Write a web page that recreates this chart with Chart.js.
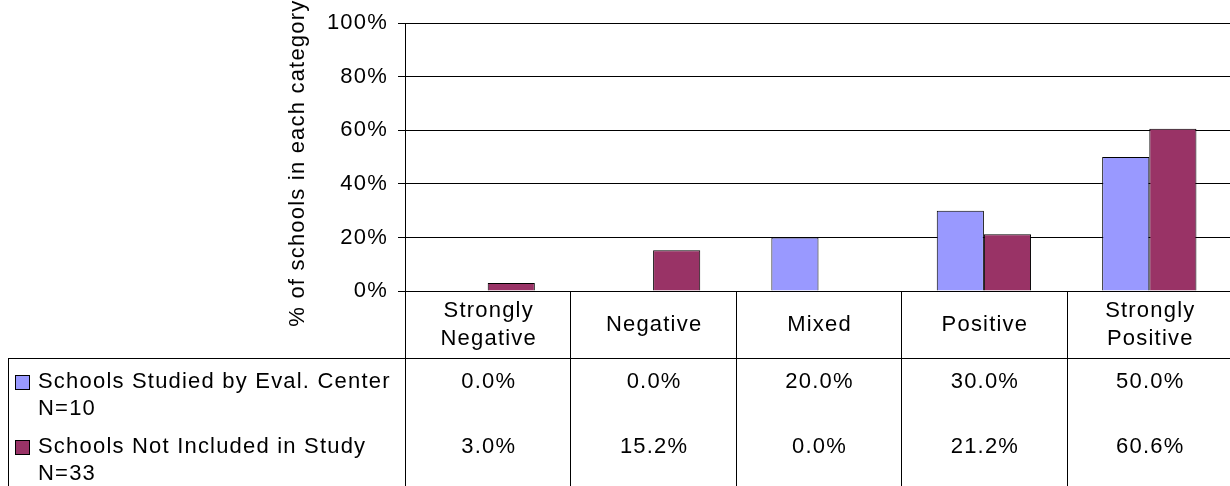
<!DOCTYPE html>
<html>
<head>
<meta charset="utf-8">
<script src="https://cdn.jsdelivr.net/npm/chart.js@4.4.1/dist/chart.umd.min.js"></script>
<style>
html, body { margin: 0; padding: 0; overflow: hidden; background: #fff; }
#wrap { width: 1232px; height: 486px; }
</style>
</head>
<body>
<div id="wrap"><canvas id="chart"></canvas></div>
<script>
const categories = [["Strongly", "Negative"], ["Negative"], ["Mixed"], ["Positive"], ["Strongly", "Positive"]];
const studied = [0.0, 0.0, 20.0, 30.0, 50.0];       // Schools Studied by Eval. Center
const notIncluded = [3.0, 15.2, 0.0, 21.2, 60.6];   // Schools Not Included in Study
const seriesNames = [["Schools Studied by Eval. Center", "N=10"], ["Schools Not Included in Study", "N=33"]];
const seriesColors = ['#9999FF', '#993366'];
const yTitle = "% of schools in each category";

const FONT = '22px "Liberation Sans", Arial, sans-serif';
const SPACING = '1.2px';

// table under the plot + rotated axis title
const dataTable = {
    id: 'dataTable',
    beforeDraw(chart) {
        chart.ctx.letterSpacing = SPACING;
    },
    afterDraw(chart) {
        const ctx = chart.ctx;
        const xs = chart.scales.x;
        const area = chart.chartArea;
        const half = (xs.getPixelForValue(1) - xs.getPixelForValue(0)) / 2;
        const headBottom = area.bottom + 67;
        const bottom = chart.height;

        ctx.save();
        ctx.letterSpacing = SPACING;
        ctx.strokeStyle = '#000';
        ctx.fillStyle = '#000';
        ctx.lineWidth = 1;
        ctx.font = FONT;
        ctx.textBaseline = 'middle';

        // grid of the table
        ctx.beginPath();
        ctx.moveTo(8, headBottom + 0.5);
        ctx.lineTo(area.right, headBottom + 0.5);
        ctx.moveTo(8.5, headBottom);
        ctx.lineTo(8.5, bottom);
        for (let i = 0; i <= categories.length; i++) {
            const bx = Math.round(xs.getPixelForValue(i) - half) + 0.5;
            ctx.moveTo(bx, area.bottom);
            ctx.lineTo(bx, bottom);
        }
        ctx.stroke();

        // header
        ctx.textAlign = 'center';
        const headMid = area.bottom + 34;
        categories.forEach((lines, i) => {
            const cx = xs.getPixelForValue(i);
            lines.forEach((t, j) => {
                ctx.fillText(t, cx + 1, headMid + (j - (lines.length - 1) / 2) * 28);
            });
        });

        // rows
        [studied, notIncluded].forEach((vals, r) => {
            const y = headBottom + 24 + r * 65;
            ctx.textAlign = 'center';
            vals.forEach((v, i) => {
                ctx.fillText(v.toFixed(1) + '%', xs.getPixelForValue(i) + 1, y);
            });
            ctx.textAlign = 'left';
            ctx.fillStyle = seriesColors[r];
            ctx.fillRect(15, y - 7, 15, 15);
            ctx.strokeRect(15.5, y - 6.5, 14, 14);
            ctx.fillStyle = '#000';
            ctx.fillText(seriesNames[r][0], 38, y);
            ctx.fillText(seriesNames[r][1], 38, y + 27);
        });

        // y axis title
        ctx.translate(298, (area.top + area.bottom) / 2 + 6);
        ctx.rotate(-Math.PI / 2);
        ctx.textAlign = 'center';
        ctx.fillText(yTitle, 0, 0);
        ctx.restore();
    }
};

const config = {
    type: 'bar',
    data: {
        labels: categories.map(c => c.join(' ')),
        datasets: [{
            label: seriesNames[0].join(' '),
            data: studied,
            backgroundColor: seriesColors[0],
            borderColor: '#000',
            borderWidth: 1
        },
        {
            label: seriesNames[1].join(' '),
            data: notIncluded,
            backgroundColor: seriesColors[1],
            borderColor: '#000',
            borderWidth: 1
        }]
    },
    options: {
        responsive: true,
        maintainAspectRatio: false,
        devicePixelRatio: 1,
        animation: false,
        categoryPercentage: 0.57,
        barPercentage: 1.0,
        layout: {
            padding: { left: 287, top: 19, right: 0, bottom: 195 }
        },
        plugins: {
            legend: { display: false },
            tooltip: { enabled: false }
        },
        scales: {
            x: { display: false },
            y: {
                min: 0,
                max: 100,
                ticks: {
                    stepSize: 20,
                    padding: 10,
                    color: '#000',
                    font: { family: '"Liberation Sans", Arial, sans-serif', size: 22 },
                    callback: v => v + '%'
                },
                grid: { color: '#000', lineWidth: 1, tickLength: 7, tickColor: '#000' },
                border: { display: true, color: '#000', width: 1 },
                afterFit: s => { s.width = 118; }
            }
        }
    },
    plugins: [dataTable]
};

const myChart = new Chart(document.getElementById('chart'), config);
</script>
</body>
</html>
